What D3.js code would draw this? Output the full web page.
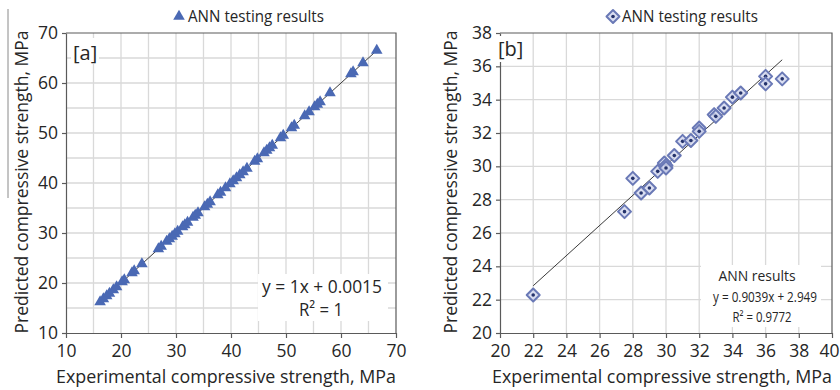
<!DOCTYPE html>
<html>
<head>
<meta charset="utf-8">
<script src="https://cdn.jsdelivr.net/npm/d3@7"></script>
<style>
  body { margin: 0; background: #fff; }
  svg { display: block; }
  text { font-family: "Open Sans", sans-serif; fill: #262626; }
</style>
</head>
<body>
<svg id="chart" width="840" height="390"></svg>
<script>
// Panel [a]: ANN testing results (experimental vs predicted, MPa)
const expA = [16.2, 16.8, 17.4, 17.9, 18.6, 19.2, 20.2, 20.6, 22.0, 22.4, 23.8,
  26.8, 27.3, 28.3, 28.8, 29.3, 29.8, 30.3, 31.2, 31.6, 32.1, 33.1, 33.5, 34.0,
  35.2, 35.7, 36.2, 37.6, 38.1, 39.0, 39.8, 40.4, 41.0, 41.6, 42.2, 42.9, 44.3,
  44.8, 46.0, 46.5, 47.0, 47.5, 49.0, 49.5, 51.0, 51.5, 53.4, 54.2, 55.2, 55.7,
  56.2, 58.0, 61.8, 62.2, 64.0, 66.5];
const predA = [16.2, 16.8, 17.4, 17.9, 18.6, 19.2, 20.2, 20.6, 22.0, 22.4, 23.8,
  26.8, 27.3, 28.3, 28.8, 29.3, 29.8, 30.3, 31.2, 31.6, 32.1, 33.1, 33.5, 34.0,
  35.2, 35.7, 36.2, 37.6, 38.1, 39.0, 39.8, 40.4, 41.0, 41.6, 42.2, 42.9, 44.3,
  44.8, 46.0, 46.5, 47.0, 47.5, 49.0, 49.5, 51.0, 51.5, 53.4, 54.2, 55.2, 55.7,
  56.2, 58.0, 61.8, 62.2, 64.0, 66.5];

// Panel [b]: ANN results
const expB = [22.0, 27.5, 28.0, 28.5, 29.0, 29.5, 29.9, 30.0, 30.0, 30.5, 31.0,
  31.5, 32.0, 32.0, 32.9, 33.0, 33.5, 34.0, 34.5, 36.0, 36.0, 37.0];
const predB = [22.28, 27.28, 29.28, 28.4, 28.7, 29.7, 30.2, 30.05, 29.9, 30.65,
  31.5, 31.55, 32.3, 32.1, 33.1, 33.0, 33.5, 34.15, 34.4, 35.4, 34.95, 35.25];

// Axis ticks
const ticksA = [10, 20, 30, 40, 50, 60, 70];
const gridA = [15, 20, 25, 30, 35, 40, 45, 50, 55, 60, 65];
const ticksBX = [20, 22, 24, 26, 28, 30, 32, 34, 36, 38, 40];
const ticksBY = [20, 22, 24, 26, 28, 30, 32, 34, 36, 38];

// Linear trendlines
const trendA = { slope: 1, intercept: 0.0015 };
const trendB = { slope: 0.9039, intercept: 2.949 };

const labels = {
  series: "ANN testing results",
  xTitle: "Experimental compressive strength, MPa",
  yTitle: "Predicted compressive strength, MPa",
  eqA: "y = 1x + 0.0015",
  r2A: "R² = 1",
  nameB: "ANN results",
  eqB: "y = 0.9039x + 2.949",
  r2B: "R² = 0.9772"
};

const svg = d3.select("#chart");
const GRID = "#d9d9d9", AXIS = "#5a5a5a", BLUE = "#4a69b4";

function squeeze(sel, w) {
  return sel.attr("textLength", w).attr("lengthAdjust", "spacingAndGlyphs");
}

function panel(cfg) {
  const g = svg.append("g");
  const x = d3.scaleLinear().domain(cfg.xDomain).range([cfg.left, cfg.right]);
  const y = d3.scaleLinear().domain(cfg.yDomain).range([333, 33]);

  // gridlines
  g.append("g").selectAll("line").data(cfg.gridX).join("line")
    .attr("x1", d => x(d)).attr("x2", d => x(d))
    .attr("y1", y.range()[0]).attr("y2", y.range()[1])
    .attr("stroke", GRID).attr("stroke-width", 1.3);
  g.append("g").selectAll("line").data(cfg.gridY).join("line")
    .attr("y1", d => y(d)).attr("y2", d => y(d))
    .attr("x1", x.range()[0]).attr("x2", x.range()[1])
    .attr("stroke", GRID).attr("stroke-width", 1.3);

  // frame (top/right)
  g.append("path")
    .attr("d", `M${x.range()[0]},${y.range()[1]}H${x.range()[1]}V${y.range()[0]}`)
    .attr("fill", "none").attr("stroke", AXIS).attr("stroke-width", 1.2);

  // axes
  const ax = g.append("g").attr("transform", `translate(0,${y.range()[0]})`)
    .call(d3.axisBottom(x).tickValues(cfg.ticksX).tickSize(5).tickSizeOuter(0).tickPadding(7));
  const ay = g.append("g").attr("transform", `translate(${x.range()[0]},0)`)
    .call(d3.axisLeft(y).tickValues(cfg.ticksY).tickSize(4).tickSizeOuter(0).tickPadding(4));
  [ax, ay].forEach(a => {
    a.select(".domain").attr("stroke", AXIS).attr("stroke-width", 1.2);
    a.selectAll(".tick line").attr("stroke", AXIS).attr("stroke-width", 1.2);
    a.selectAll(".tick text").attr("font-size", 17.5).attr("fill", "#262626")
      .attr("font-family", '"Open Sans", sans-serif');
  });
  // keep the last x tick label inside the page
  ax.selectAll(".tick text").filter(d => x(d) > 820)
    .attr("text-anchor", "end").attr("x", d => 839 - x(d));

  // trendline over the data range
  const [xa, xb] = d3.extent(cfg.xs);
  g.append("line")
    .attr("x1", x(xa)).attr("y1", y(cfg.trend.slope * xa + cfg.trend.intercept))
    .attr("x2", x(xb)).attr("y2", y(cfg.trend.slope * xb + cfg.trend.intercept))
    .attr("stroke", "#3a3a3a").attr("stroke-width", 1);

  // points
  const pts = cfg.xs.map((v, i) => [v, cfg.ys[i]]);
  cfg.marker(g.append("g"), pts.map(p => [x(p[0]), y(p[1])]));

  // axis titles
  squeeze(g.append("text").attr("x", (x.range()[0] + x.range()[1]) / 2 + cfg.xtOff).attr("y", 383)
    .attr("text-anchor", "middle").attr("font-size", 18).text(labels.xTitle), 340);
  squeeze(g.append("text").attr("transform", `translate(${cfg.ytX},182) rotate(-90)`)
    .attr("text-anchor", "middle").attr("font-size", 18.5).text(labels.yTitle), 303);

  return { g, x, y };
}

function triangles(sel, pts) {
  sel.selectAll("path").data(pts).join("path")
    .attr("transform", d => `translate(${d[0]},${d[1]})`)
    .attr("d", d3.symbol(d3.symbolTriangle, 58)())
    .attr("fill", BLUE);
}

const diamondPath = "M0,-6.5L6.5,0L0,6.5L-6.5,0Z";
function diamonds(sel, pts) {
  const m = sel.selectAll("g").data(pts).join("g")
    .attr("transform", d => `translate(${d[0]},${d[1]})`);
  m.append("path").attr("d", diamondPath)
    .attr("fill", "#d3d8ee").attr("fill-opacity", 0.85)
    .attr("stroke", "#6a79b6").attr("stroke-width", 2).attr("stroke-linejoin", "round");
  m.append("circle").attr("r", 1.8).attr("fill", "#25336c");
}

function boxedText(g, lines, box) {
  g.append("rect").attr("x", box[0]).attr("y", box[1])
    .attr("width", box[2]).attr("height", box[3]).attr("fill", "#fff");
  lines.forEach(l => {
    const t = g.append("text").attr("x", l.x).attr("y", l.y)
      .attr("text-anchor", l.anchor || "middle").attr("font-size", l.size).text(l.text);
    if (l.w) squeeze(t, l.w);
  });
}

// ---- panel [a]
const A = panel({
  xDomain: [10, 70], yDomain: [10, 70], left: 66, right: 396,
  gridX: gridA, gridY: gridA, ticksX: ticksA, ticksY: ticksA,
  xs: expA, ys: predA, trend: trendA, marker: triangles, xtOff: -5, ytX: 28
});
boxedText(A.g, [
  { text: labels.eqA, x: 322, y: 293, size: 18, w: 120 },
  { text: labels.r2A, x: 321, y: 316, size: 18, w: 44 }
], [258, 274, 130, 47]);
boxedText(A.g, [{ text: "[a]", x: 73, y: 60, size: 20, anchor: "start" }], [71, 38, 28, 26]);

// legend [a]
triangles(A.g.append("g"), [[179, 16.5]]);
squeeze(A.g.append("text").attr("x", 188).attr("y", 22).attr("font-size", 15.5)
  .text(labels.series), 136);

// ---- panel [b]
const B = panel({
  xDomain: [20, 40], yDomain: [20, 38], left: 500, right: 832,
  gridX: ticksBX.slice(1, -1), gridY: ticksBY.slice(1, -1),
  ticksX: ticksBX, ticksY: ticksBY,
  xs: expB, ys: predB, trend: trendB, marker: diamonds, xtOff: -4, ytX: 457
});
boxedText(B.g, [
  { text: labels.nameB, x: 757, y: 281, size: 14, w: 77 },
  { text: labels.eqB, x: 765, y: 302, size: 14, w: 104 },
  { text: labels.r2B, x: 762, y: 322, size: 14, w: 59 }
], [701, 265, 120, 62]);
boxedText(B.g, [{ text: "[b]", x: 498, y: 56, size: 20, anchor: "start" }], [497, 36, 27, 26]);

// legend [b]
diamonds(B.g.append("g"), [[613, 16.5]]);
squeeze(B.g.append("text").attr("x", 622).attr("y", 22).attr("font-size", 15.5)
  .text(labels.series), 136);

// thin frame edge on the far left
svg.append("line").attr("x1", 8).attr("x2", 8).attr("y1", 9).attr("y2", 198)
  .attr("stroke", "#8a8a8a").attr("stroke-width", 1);
</script>
</body>
</html>
